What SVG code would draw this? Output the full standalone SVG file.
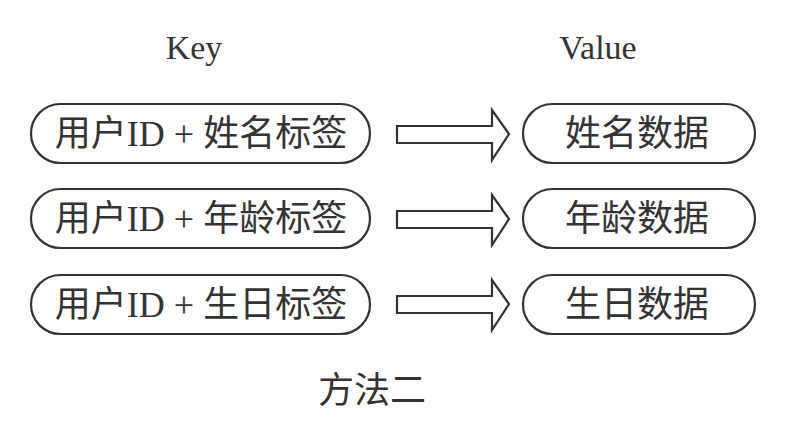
<svg xmlns="http://www.w3.org/2000/svg" width="812" height="434" viewBox="0 0 812 434">
<style>
.box{fill:#fff;stroke:#333;stroke-width:2.2}
.arr{fill:#fff;stroke:#333;stroke-width:2.2;stroke-linejoin:miter}
.t{font-family:"Liberation Serif","Noto Sans CJK SC",serif;font-size:36px;fill:#333;text-anchor:middle}
.h{font-family:"Liberation Serif","Noto Sans CJK SC",serif;font-size:34px;fill:#333;text-anchor:middle}
</style>
<defs>
<polygon id="arrow" class="arr" points="397,-8 492,-8 492,-24 509,0 492,26 492,9 397,9"/>
</defs>
<rect width="812" height="434" fill="#fff"/>
<g id="header">
<text class="h" x="194" y="59">Key</text>
<text class="h" x="598" y="59">Value</text>
</g>
<g id="key1"><rect class="box" x="31" y="104" width="339" height="59" rx="29.5"/><text class="t" x="201" y="146">用户ID + 姓名标签</text></g>
<g id="val1"><rect class="box" x="523" y="104" width="232" height="59" rx="29.5"/><text class="t" x="637" y="146">姓名数据</text></g>
<g id="key2"><rect class="box" x="31" y="189" width="339" height="59" rx="29.5"/><text class="t" x="201" y="231">用户ID + 年龄标签</text></g>
<g id="val2"><rect class="box" x="523" y="189" width="232" height="59" rx="29.5"/><text class="t" x="637" y="231">年龄数据</text></g>
<g id="key3"><rect class="box" x="31" y="275" width="339" height="59" rx="29.5"/><text class="t" x="201" y="317">用户ID + 生日标签</text></g>
<g id="val3"><rect class="box" x="523" y="275" width="232" height="59" rx="29.5"/><text class="t" x="637" y="317">生日数据</text></g>
<g id="connectors">
<use href="#arrow" y="134"/>
<use href="#arrow" y="219"/>
<use href="#arrow" y="304"/>
</g>
<g id="caption"><text class="t" x="372" y="403">方法二</text></g>
</svg>
